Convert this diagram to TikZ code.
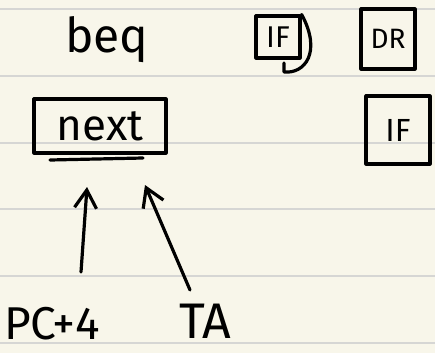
\documentclass[tikz,border=0pt]{standalone}
\usepackage{fontspec}
\setmainfont{Fira Sans}
\usetikzlibrary{arrows.meta,calc}
\definecolor{paper}{HTML}{F8F6EA}
\definecolor{rule}{HTML}{D6D6D4}
\begin{document}
\begin{tikzpicture}[x=1pt,y=-1pt,
  ink/.style={line width=3.2pt,line cap=round,line join=round},
  lbl/.style={inner sep=0pt,font=\fontsize{#1}{#1}\selectfont},
  boxed/.style={ink,draw,inner sep=0pt,minimum width=#1},
  arr/.style={ink,-{Straight Barb[length=18pt,width=22pt,line width=3.2pt]}}]
\fill[paper] (0,0) rectangle (435,353);
\useasboundingbox (0,0) rectangle (435,353);
\foreach \y in {9,76,143,209,276,343}
  \draw[rule,line width=1.5pt] (0,\y) -- (435,\y);
% top row
\node[lbl=48] (beq) at (107,40) {beq};
\node[boxed=44pt,minimum height=42pt,lbl=30] (if1) at (278,37) {IF};
\draw[ink] (if1.north east) .. controls (322,52) and (305,74) .. (284,72) -- (284,63);
\node[boxed=54pt,minimum height=60pt,lbl=28] (dr) at (388,39) {DR};
% second row
\node[boxed=132pt,minimum height=54pt,lbl=44] (next) at (100,126) {next};
\coordinate (ul1) at (50,160);
\coordinate (ul2) at (143,158);
\draw[ink] (ul1) -- (ul2);
\node[boxed=64pt,minimum height=68pt,lbl=32] (if2) at (398,130) {IF};
% bottom labels
\node[lbl=46] (pc) at (52,324) {PC+4};
\node[lbl=50] (ta) at (205,321) {TA};
\coordinate (a1s) at (81,272);
\coordinate (a1e) at (87,187);
\coordinate (a2s) at (190,290);
\coordinate (a2e) at (145,185);
\draw[arr] (a1s) -- (a1e);
\draw[arr] (a2s) -- (a2e);
\end{tikzpicture}
\end{document}
